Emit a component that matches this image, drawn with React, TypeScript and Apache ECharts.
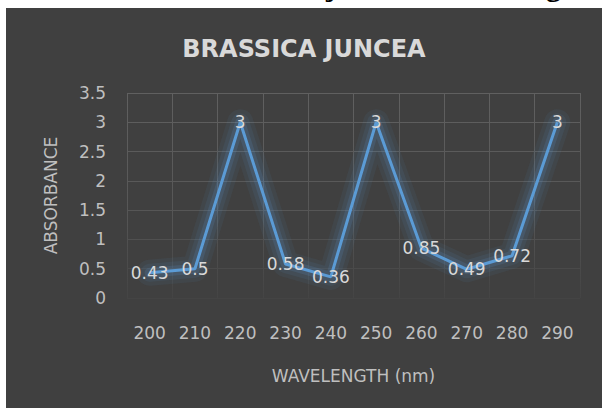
import React, { useEffect, useRef } from 'react';
import * as echarts from 'echarts';

const categories = ['200', '210', '220', '230', '240', '250', '260', '270', '280', '290'];
const absorbance = [0.43, 0.5, 3, 0.58, 0.36, 3, 0.85, 0.49, 0.72, 3];
const yMin = 0;
const yMax = 3.5;
const yStep = 0.5;
const chartTitle = 'BRASSICA JUNCEA';
const xAxisName = 'WAVELENGTH (nm)';
const yAxisName = 'ABSORBANCE';
const headerText = 'juncea seeds using UV';

const FONT = 'DejaVu Sans';

export default function App() {
  const ref = useRef<HTMLDivElement>(null);

  useEffect(() => {
    if (!ref.current) return;
    const chart = echarts.init(ref.current, undefined, { renderer: 'svg' });
    const gridGradient = () =>
      new echarts.graphic.LinearGradient(
        0, 85, 0, 290,
        [
          { offset: 0, color: '#606060' },
          { offset: 0.55, color: '#575757' },
          { offset: 1, color: '#444444' },
        ],
        true
      );
    const glow = (width: number, alpha: number) => ({
      type: 'line',
      data: absorbance,
      silent: true,
      symbol: 'none',
      z: 1,
      lineStyle: { color: `rgba(91,155,213,${alpha})`, width, join: 'round', cap: 'round' },
      label: { show: false },
      tooltip: { show: false },
    });
    chart.setOption({
      animation: false,
      backgroundColor: '#404040',
      title: {
        text: chartTitle,
        left: 'center',
        top: 24,
        textStyle: { color: '#d9d9d9', fontSize: 24, fontWeight: 'bold', fontFamily: FONT },
      },
      grid: { left: 121, right: 22, top: 85, bottom: 110 },
      xAxis: {
        type: 'category',
        data: categories,
        boundaryGap: true,
        axisLine: { show: false },
        axisTick: { show: false },
        axisLabel: { color: '#bfbfbf', fontSize: 17, margin: 26, fontFamily: FONT, interval: 0 },
        splitLine: { show: true, interval: 0, lineStyle: { color: gridGradient(), width: 1 } },
        name: xAxisName,
        nameLocation: 'middle',
        nameGap: 69,
        nameTextStyle: { color: '#bfbfbf', fontSize: 17, fontFamily: FONT },
      },
      yAxis: {
        type: 'value',
        min: yMin,
        max: yMax,
        interval: yStep,
        axisLine: { show: false },
        axisTick: { show: false },
        axisLabel: { color: '#bfbfbf', fontSize: 17, margin: 21, fontFamily: FONT },
        splitLine: { show: true, lineStyle: { color: gridGradient(), width: 1 } },
        name: yAxisName,
        nameLocation: 'middle',
        nameGap: 68,
        nameTextStyle: { color: '#bfbfbf', fontSize: 17, fontFamily: FONT },
      },
      series: [
        glow(26, 0.07),
        glow(18, 0.09),
        glow(10, 0.15),
        {
          type: 'line',
          data: absorbance,
          symbol: 'circle',
          symbolSize: 0,
          showSymbol: true,
          z: 3,
          itemStyle: { color: '#5B9BD5' },
          lineStyle: { color: '#5B9BD5', width: 3 },
          label: {
            show: true,
            position: 'inside',
            color: '#d9d9d9',
            fontSize: 17,
            fontFamily: FONT,
          },
        },
      ],
    });
    return () => chart.dispose();
  }, []);

  return (
    <div
      style={{
        position: 'fixed',
        left: 0,
        top: 0,
        width: 602,
        height: 408,
        background: '#ffffff',
        overflow: 'hidden',
      }}
    >
      <div
        style={{
          position: 'absolute',
          left: 326,
          top: -29,
          fontFamily: 'Liberation Serif',
          fontWeight: 'bold',
          fontSize: 30,
          lineHeight: '30px',
          color: '#000',
          whiteSpace: 'nowrap',
        }}
      >
        {headerText}
      </div>
      <div
        ref={ref}
        style={{ position: 'absolute', left: 6, top: 8, width: 596, height: 400, zIndex: 1 }}
      />
    </div>
  );
}
